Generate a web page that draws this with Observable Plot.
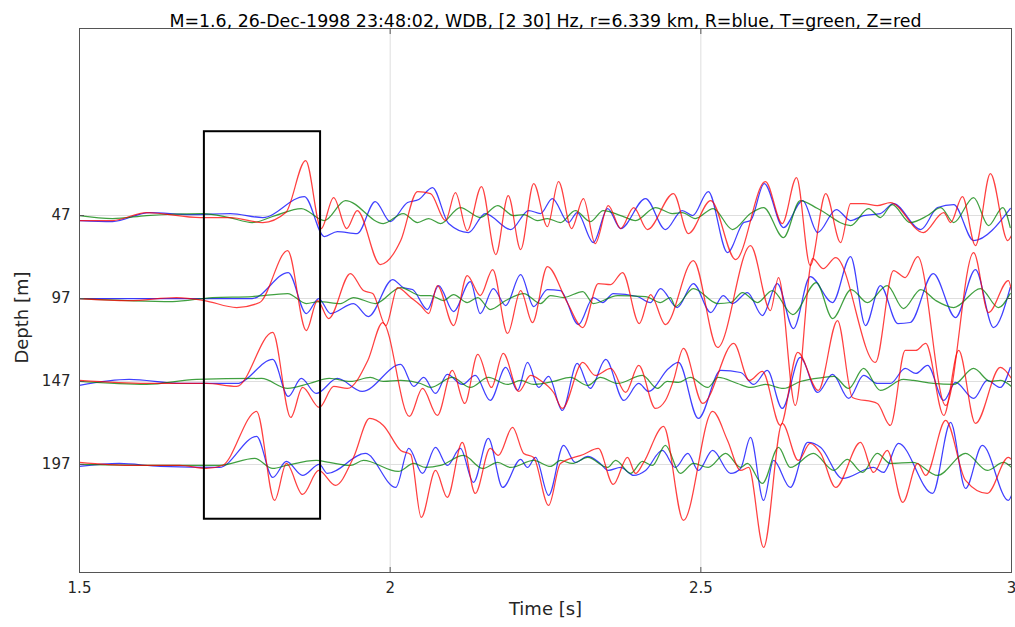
<!DOCTYPE html>
<html><head><meta charset="utf-8">
<script src="https://cdn.jsdelivr.net/npm/d3@7"></script>
<script src="https://cdn.jsdelivr.net/npm/@observablehq/plot@0.6"></script>
<style>body{margin:0;background:#fff} svg{font-family:"DejaVu Sans",sans-serif}</style>
</head><body><div id="chart"></div>
<script>
const titleText = "M=1.6, 26-Dec-1998 23:48:02, WDB, [2 30] Hz, r=6.339 km, R=blue, T=green, Z=red";
const depths = [47, 97, 147, 197];
const xTicks = [1.5, 2, 2.5, 3];
const yTicks = [47, 97, 147, 197];
const timeDomain = [1.5, 3];
const depthDomain = [-65.7, 262.1];
const gain = 1 / 1.66; // metres per amplitude unit
const boxTime = [1.701, 1.888];
const boxDepth = [-3.5, 230];

// [time (s), amplitude] – R = blue, T = green, Z = red
const r47 = [[1.500,-5],[1.553,-6],[1.613,3],[1.679,1],[1.743,2],[1.795,-2],[1.862,19],[1.894,-21],[1.915,-16],[1.947,-18],[1.976,14],[2.000,-6],[2.028,13],[2.046,16],[2.068,28],[2.094,-8],[2.126,-17],[2.153,2],[2.194,-14],[2.223,5],[2.242,2],[2.261,17],[2.287,-7],[2.301,3],[2.327,-27],[2.350,7],[2.371,-13],[2.411,17],[2.443,-14],[2.470,5],[2.487,0],[2.512,24],[2.543,-37],[2.569,-7],[2.580,-5],[2.602,32],[2.633,-12],[2.664,15],[2.688,-17],[2.718,6],[2.741,-5],[2.762,0],[2.789,2],[2.810,12],[2.854,-14],[2.881,8],[2.907,11],[2.939,-25],[2.998,7]];
const t47 = [[1.500,0],[1.553,-3],[1.608,0],[1.698,2],[1.741,-2],[1.778,-7],[1.815,0],[1.857,7],[1.894,-5],[1.928,15],[1.989,-8],[2.021,2],[2.044,-7],[2.062,-3],[2.081,-8],[2.113,8],[2.145,-2],[2.173,10],[2.198,0],[2.215,1],[2.237,-5],[2.253,-3],[2.274,-7],[2.298,5],[2.322,-6],[2.343,5],[2.371,0],[2.395,-5],[2.427,8],[2.454,2],[2.470,3],[2.491,-3],[2.520,7],[2.551,-14],[2.580,2],[2.601,8],[2.633,-22],[2.660,15],[2.688,7],[2.741,-10],[2.770,7],[2.789,-2],[2.808,11],[2.837,-7],[2.865,0],[2.886,8],[2.907,-7],[2.939,18],[2.963,-10],[2.986,8],[2.998,-12]];
const z47 = [[1.500,-5],[1.553,-5],[1.608,3],[1.695,-2],[1.743,-2],[1.795,-7],[1.832,3],[1.864,55],[1.889,-13],[1.909,18],[1.930,-13],[1.947,5],[1.984,-49],[2.017,-25],[2.044,24],[2.065,22],[2.089,-5],[2.105,23],[2.124,-15],[2.147,29],[2.170,-39],[2.190,20],[2.210,-34],[2.231,32],[2.253,-11],[2.271,34],[2.292,-13],[2.311,17],[2.330,-28],[2.351,10],[2.371,-13],[2.392,8],[2.414,-14],[2.456,22],[2.480,-18],[2.516,15],[2.556,-44],[2.604,34],[2.631,-8],[2.654,38],[2.676,-50],[2.701,22],[2.725,-27],[2.741,12],[2.762,12],[2.784,10],[2.805,13],[2.858,-17],[2.891,3],[2.902,-7],[2.921,19],[2.942,-30],[2.966,42],[2.994,-25],[3.000,-20]];

const r97 = [[1.500,0],[1.656,0],[1.778,0],[1.836,26],[1.865,-15],[1.885,0],[1.904,-15],[1.941,-5],[1.965,-18],[2.004,19],[2.021,11],[2.036,9],[2.060,-11],[2.078,13],[2.102,-13],[2.129,17],[2.145,-15],[2.166,10],[2.186,-7],[2.210,24],[2.231,-8],[2.253,9],[2.274,8],[2.303,-26],[2.327,1],[2.342,-4],[2.359,5],[2.398,2],[2.419,-4],[2.435,10],[2.462,-9],[2.488,15],[2.516,-14],[2.536,3],[2.551,-5],[2.575,6],[2.599,-17],[2.623,15],[2.649,-30],[2.676,22],[2.712,-4],[2.741,42],[2.765,-27],[2.789,13],[2.817,-25],[2.837,-24],[2.874,25],[2.910,-19],[2.942,29],[2.971,-29],[2.998,11]];
const t97 = [[1.500,0],[1.650,-3],[1.714,1],[1.778,2],[1.835,5],[1.865,-5],[1.886,-3],[1.920,-5],[1.941,1],[1.976,-5],[2.017,11],[2.049,3],[2.065,3],[2.086,-2],[2.102,4],[2.124,-4],[2.141,1],[2.161,-11],[2.186,-2],[2.215,5],[2.242,-5],[2.258,3],[2.279,1],[2.310,7],[2.327,-5],[2.366,3],[2.411,2],[2.435,-4],[2.451,1],[2.459,-8],[2.488,10],[2.527,-5],[2.548,-4],[2.567,6],[2.591,-4],[2.615,8],[2.648,-16],[2.686,16],[2.712,-20],[2.742,9],[2.768,-4],[2.800,13],[2.826,-10],[2.854,9],[2.878,-2],[2.907,-9],[2.950,10],[2.979,-9],[2.998,5]];
const z97 = [[1.500,0],[1.580,-2],[1.656,1],[1.701,-2],[1.753,-9],[1.790,-4],[1.835,48],[1.865,-32],[1.883,-2],[1.901,-20],[1.936,25],[1.957,8],[1.972,5],[1.993,-27],[2.012,11],[2.033,1],[2.049,-7],[2.062,-15],[2.076,13],[2.102,-27],[2.124,23],[2.145,3],[2.165,29],[2.189,-35],[2.210,8],[2.229,-24],[2.253,32],[2.285,-4],[2.310,-29],[2.335,15],[2.355,14],[2.374,26],[2.401,-25],[2.419,4],[2.443,-26],[2.488,38],[2.527,-49],[2.580,53],[2.612,-12],[2.625,21],[2.652,-107],[2.680,40],[2.697,30],[2.717,41],[2.781,-64],[2.810,28],[2.829,21],[2.849,42],[2.894,-107],[2.939,46],[2.963,-14],[2.995,18],[3.000,8]];

const r147 = [[1.500,-4],[1.580,2],[1.662,-2],[1.753,-2],[1.811,22],[1.836,-15],[1.857,3],[1.881,-12],[1.915,3],[1.955,-10],[2.017,17],[2.038,-5],[2.054,4],[2.073,-12],[2.092,7],[2.116,-3],[2.137,6],[2.161,-19],[2.186,14],[2.205,-9],[2.221,19],[2.239,-6],[2.255,5],[2.277,-29],[2.301,18],[2.322,-7],[2.347,22],[2.376,-19],[2.400,-2],[2.416,-10],[2.448,13],[2.464,19],[2.496,-37],[2.532,11],[2.564,9],[2.585,-3],[2.607,11],[2.631,-27],[2.660,24],[2.688,-11],[2.712,7],[2.738,-17],[2.762,6],[2.784,-2],[2.805,-2],[2.829,13],[2.846,8],[2.865,16],[2.891,-19],[2.910,-1],[2.939,-17],[2.961,1],[2.982,-6],[2.998,14]];
const t147 = [[1.500,0],[1.608,-3],[1.688,2],[1.793,3],[1.835,-7],[1.870,-2],[1.902,3],[1.936,0],[1.968,4],[1.989,0],[2.017,1],[2.049,-2],[2.065,-6],[2.100,4],[2.129,-6],[2.158,4],[2.189,-3],[2.210,1],[2.231,-3],[2.263,0],[2.290,4],[2.318,-4],[2.338,4],[2.366,-2],[2.406,6],[2.430,-7],[2.446,0],[2.464,-1],[2.483,4],[2.511,-6],[2.528,4],[2.559,-2],[2.580,-6],[2.604,-3],[2.633,-7],[2.660,0],[2.697,4],[2.714,5],[2.738,-7],[2.762,13],[2.789,-9],[2.826,2],[2.842,1],[2.874,-2],[2.907,-3],[2.939,13],[2.966,0],[2.982,1],[3.000,-5]];
const z147 = [[1.500,1],[1.608,-2],[1.704,-2],[1.753,-5],[1.811,49],[1.840,-36],[1.859,-6],[1.886,-26],[1.909,-5],[1.931,-7],[1.964,21],[1.988,59],[2.031,-35],[2.052,-7],[2.076,-34],[2.100,11],[2.120,-22],[2.141,27],[2.163,-6],[2.182,28],[2.207,-10],[2.226,6],[2.242,1],[2.263,-11],[2.277,-27],[2.310,19],[2.330,6],[2.355,13],[2.379,-11],[2.400,16],[2.427,-27],[2.443,-19],[2.456,1],[2.472,33],[2.503,-22],[2.553,38],[2.578,1],[2.599,10],[2.628,-44],[2.656,29],[2.689,-9],[2.720,61],[2.744,-16],[2.784,-22],[2.805,-44],[2.829,31],[2.846,31],[2.862,38],[2.891,-34],[2.915,31],[2.942,-42],[2.982,14],[3.000,3]];

const r197 = [[1.500,-2],[1.564,1],[1.630,-2],[1.725,-3],[1.785,28],[1.811,-13],[1.833,3],[1.859,-11],[1.886,0],[1.899,-9],[1.960,11],[2.009,-23],[2.030,16],[2.052,-9],[2.073,17],[2.092,-1],[2.113,16],[2.134,-18],[2.158,26],[2.181,-23],[2.210,5],[2.221,-3],[2.234,7],[2.255,-31],[2.279,19],[2.298,2],[2.318,8],[2.338,1],[2.351,-6],[2.371,-3],[2.392,-11],[2.411,-6],[2.438,14],[2.459,-3],[2.479,11],[2.496,-6],[2.519,14],[2.548,-9],[2.564,-4],[2.580,27],[2.601,-36],[2.617,4],[2.644,-23],[2.672,22],[2.693,17],[2.728,-14],[2.778,-3],[2.794,-8],[2.818,21],[2.873,-29],[2.902,42],[2.926,-24],[2.953,19],[2.995,-36],[3.000,-31]];
const t197 = [[1.500,0],[1.630,-1],[1.725,-1],[1.782,6],[1.811,-4],[1.833,-1],[1.881,4],[1.902,2],[1.936,-1],[1.957,4],[2.013,-7],[2.038,1],[2.057,-3],[2.081,-1],[2.118,9],[2.149,-4],[2.173,2],[2.194,-3],[2.231,4],[2.258,-2],[2.274,4],[2.293,1],[2.318,7],[2.350,-3],[2.363,4],[2.387,-9],[2.406,3],[2.422,-1],[2.443,19],[2.467,-9],[2.488,1],[2.512,-3],[2.540,11],[2.564,-3],[2.575,1],[2.599,-19],[2.625,17],[2.644,-3],[2.681,11],[2.714,-6],[2.736,5],[2.760,-8],[2.784,11],[2.805,1],[2.842,2],[2.881,-11],[2.926,11],[2.961,-6],[2.987,2],[3.000,-3]];
const z197 = [[1.500,2],[1.580,-1],[1.661,-1],[1.704,-4],[1.730,-1],[1.785,53],[1.814,-36],[1.833,1],[1.859,-30],[1.885,-6],[1.912,-21],[1.941,7],[1.967,46],[1.989,39],[2.017,14],[2.033,10],[2.050,-53],[2.073,-6],[2.092,-33],[2.116,22],[2.137,-29],[2.161,16],[2.174,9],[2.197,37],[2.215,11],[2.231,7],[2.255,-41],[2.274,1],[2.311,10],[2.335,16],[2.359,-20],[2.382,7],[2.395,-9],[2.408,2],[2.440,38],[2.472,-56],[2.519,53],[2.543,24],[2.564,-6],[2.577,-3],[2.601,-83],[2.631,41],[2.657,4],[2.676,21],[2.693,11],[2.717,-23],[2.757,22],[2.778,-8],[2.800,14],[2.825,-38],[2.849,1],[2.862,-11],[2.894,44],[2.926,-16],[2.961,-29],[2.995,7],[3.000,5]];

const componentR = [r47, r97, r147, r197];
const componentT = [t47, t97, t147, t197];
const componentZ = [z47, z97, z147, z197];

function rows(comp) {
  const out = [];
  comp.forEach((trace, i) => {
    const d = depths[i];
    trace.forEach(([t, a]) => out.push({t, y: d - a * gain, key: d}));
  });
  return out;
}

const lineOpts = {x: "t", y: "y", z: "key", curve: "monotone-x", strokeWidth: 1.25, strokeOpacity: 0.75, clip: true};

const chart = Plot.plot({
  width: 1015, height: 627,
  marginLeft: 79, marginRight: 4, marginTop: 28, marginBottom: 55,
  x: {domain: timeDomain},
  y: {domain: [depthDomain[1], depthDomain[0]]},
  style: {fontFamily: "DejaVu Sans", fontSize: "15px", color: "#262626", background: "#fff"},
  marks: [
    Plot.gridX([2, 2.5], {stroke: "#dedede", strokeOpacity: 1}),
    Plot.gridY(yTicks, {stroke: "#dedede", strokeOpacity: 1}),
    Plot.line(rows(componentR), {...lineOpts, stroke: "#0000ff"}),
    Plot.line(rows(componentT), {...lineOpts, stroke: "#008000"}),
    Plot.line(rows(componentZ), {...lineOpts, stroke: "#ff0000"}),
    Plot.rect([{t1: boxTime[0], t2: boxTime[1], d1: boxDepth[0], d2: boxDepth[1]}],
      {x1: "t1", x2: "t2", y1: "d1", y2: "d2", fill: "none", stroke: "#000", strokeWidth: 2}),
    Plot.frame({stroke: "#555"}),
    Plot.axisX(xTicks, {tickSize: -5, tickPadding: 15, tickFormat: d => String(d), label: null, fontSize: 15, stroke: "#555"}),
    Plot.axisX(xTicks, {anchor: "top", tickSize: -5, tickFormat: () => "", label: null, stroke: "#555"}),
    Plot.axisY(yTicks, {tickSize: -5, tickPadding: 14, label: null, fontSize: 15, stroke: "#555"}),
    Plot.axisY(yTicks, {anchor: "right", tickSize: -5, tickFormat: () => "", label: null, stroke: "#555"}),
    Plot.text([titleText], {frameAnchor: "top", dy: -14, fontSize: 17.4, fill: "#000"}),
    Plot.text(["Time [s]"], {frameAnchor: "bottom", dy: 42, fontSize: 18, fill: "#262626"}),
    Plot.text(["Depth [m]"], {frameAnchor: "left", dx: -57, dy: 17, rotate: -90, textAnchor: "middle", fontSize: 18, fill: "#262626"})
  ]
});
document.getElementById("chart").append(chart);
</script>
</body></html>
